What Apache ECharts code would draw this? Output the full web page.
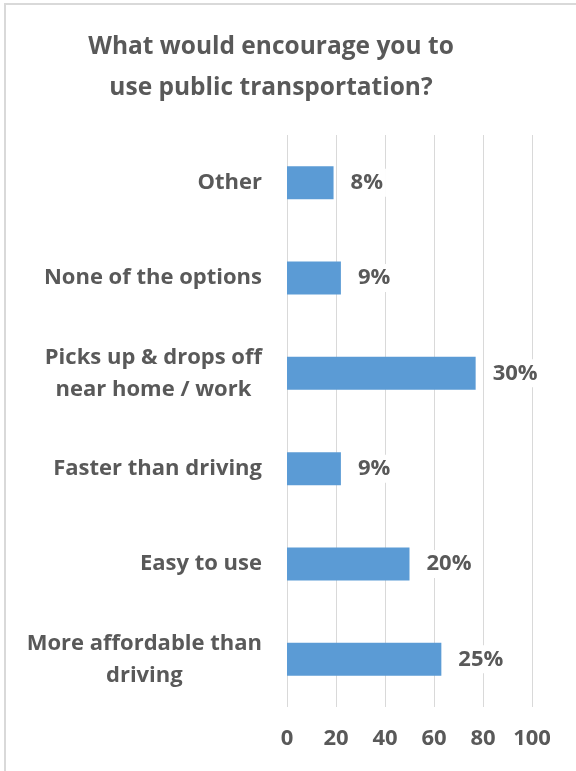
<!DOCTYPE html>
<html>
<head>
<meta charset="utf-8">
<style>
  html, body { margin: 0; padding: 0; background: #ffffff; }
  #chart { width: 576px; height: 771px; }
</style>
<script src="https://cdn.jsdelivr.net/npm/echarts@6/dist/echarts.min.js"></script>
</head>
<body>
<div id="chart"></div>
<script>
// Survey answers, top to bottom
const categories = [
  'Other',
  'None of the options',
  'Picks up & drops off\nnear home / work',
  'Faster than driving',
  'Easy to use',
  'More affordable than\ndriving'
];
// Number of responses per answer
const responses = [19, 22, 77, 22, 50, 63];
// Value axis ticks
const axisTicks = [0, 20, 40, 60, 80, 100];

const totalResponses = responses.reduce((a, b) => a + b, 0);
const FONT = '"Open Sans"';
const GREY = '#595959';

const chart = echarts.init(document.getElementById('chart'), null, { renderer: 'canvas' });

chart.setOption({
  backgroundColor: '#ffffff',
  animation: false,
  title: {
    text: 'What would encourage you to\nuse public transportation?',
    left: 266,
    top: 22,
    textAlign: 'center',
    textStyle: {
      fontFamily: FONT,
      fontSize: 24.5,
      fontWeight: 'bold',
      color: GREY,
      lineHeight: 41
    }
  },
  graphic: [
    { type: 'line', shape: { x1: 4, y1: 4, x2: 576, y2: 4 }, style: { stroke: '#d9d9d9', lineWidth: 2 } },
    { type: 'line', shape: { x1: 5, y1: 4, x2: 5, y2: 771 }, style: { stroke: '#d9d9d9', lineWidth: 2 } }
  ],
  grid: {
    left: 287,
    right: 44,
    top: 135,
    bottom: 64,
    containLabel: false
  },
  xAxis: {
    type: 'value',
    min: axisTicks[0],
    max: axisTicks[axisTicks.length - 1],
    interval: axisTicks[1] - axisTicks[0],
    axisLine: { show: false },
    axisTick: { show: false },
    splitLine: { show: true, lineStyle: { color: '#d9d9d9', width: 1 } },
    axisLabel: {
      margin: 21,
      fontFamily: FONT,
      fontSize: 22,
      fontWeight: 'bold',
      color: GREY
    }
  },
  yAxis: {
    type: 'category',
    data: categories,
    inverse: true,
    axisLine: { show: false },
    axisTick: { show: false },
    splitLine: { show: false },
    axisLabel: {
      margin: 25,
      align: 'right',
      formatter: (v) => v.split('\n').map(line => '{c|' + line + '}').join('\n'),
      rich: {
        c: {
          fontFamily: FONT,
          fontSize: 22,
          fontWeight: 'bold',
          color: GREY,
          align: 'center',
          lineHeight: 32
        }
      }
    }
  },
  series: [{
    type: 'bar',
    data: responses,
    barWidth: 33,
    itemStyle: { color: '#5b9bd5' },
    label: {
      show: true,
      position: 'right',
      distance: 14,
      padding: [3, 3],
      backgroundColor: '#ffffff',
      fontFamily: FONT,
      fontSize: 22,
      fontWeight: 'bold',
      color: GREY,
      formatter: (p) => Math.round(p.value / totalResponses * 100) + '%'
    }
  }]
});
</script>
</body>
</html>
